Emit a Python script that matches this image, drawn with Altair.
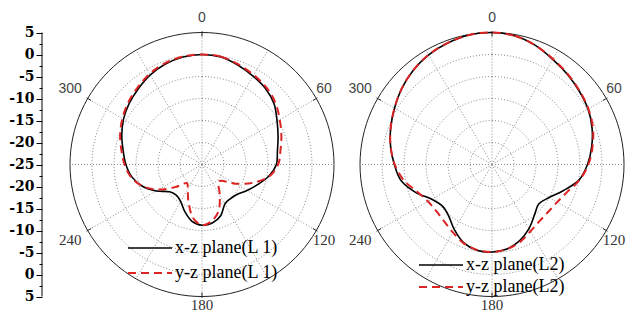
import altair as alt
import pandas as pd

# ---------------- data (dB vs angle, clockwise from top) ----------------
angles = list(range(0, 360, 10))

xz_L1 = [0.0, -0.2, -1.0, -1.8, -2.5, -3.6, -5.3, -6.6, -7.6, -8.1,
         -9.6, -11.6, -13.2, -14.5, -14.9, -14.6, -12.6, -11.5, -11.2, -11.9,
         -13.6, -15.3, -15.9, -15.4, -13.0, -10.6, -8.8, -7.7, -6.8, -5.6,
         -4.4, -3.4, -2.5, -1.5, -0.7, -0.2]

yz_L1 = [0.0, -0.1, -0.8, -1.5, -2.2, -3.2, -4.6, -5.8, -6.9, -7.7,
         -9.5, -12.8, -16.3, -19.3, -19.2, -16.9, -13.9, -12.0, -11.2, -12.8,
         -16.0, -18.5, -19.5, -17.0, -13.6, -10.6, -8.6, -7.4, -6.4, -5.2,
         -4.1, -3.1, -2.2, -1.2, -0.5, -0.1]

xz_L2 = [5.0, 4.7, 3.8, 2.6, 1.7, 0.9, 0.2, -0.8, -2.0, -3.3,
         -4.9, -7.7, -10.0, -11.1, -10.0, -8.2, -6.6, -5.5, -5.1, -5.2,
         -6.1, -7.9, -9.7, -10.3, -9.2, -6.5, -4.0, -2.8, -1.6, -0.5,
         0.6, 1.8, 2.9, 3.8, 4.4, 4.9]

yz_L2 = [5.0, 4.7, 3.8, 2.7, 1.8, 1.0, 0.3, -0.6, -1.8, -3.1,
         -4.8, -6.8, -7.9, -8.3, -8.2, -7.5, -6.3, -5.5, -5.1, -5.3,
         -6.0, -7.2, -8.1, -8.5, -8.2, -6.9, -4.6, -2.9, -1.6, -0.5,
         0.6, 1.8, 2.9, 3.8, 4.4, 4.9]

names = {
    ("L1", "xz"): "x-z plane(L 1)",
    ("L1", "yz"): "y-z plane(L 1)",
    ("L2", "xz"): "x-z plane(L2)",
    ("L2", "yz"): "y-z plane(L2)",
}

CENTER_DB = -25
OUTER_DB = 5
ring_db = [-20, -15, -10, -5, 0]
spoke_angles = list(range(0, 360, 30))
label_angles = [0, 60, 120, 180, 240, 300]
sans_label_angles = [0, 60, 300]
axis_vals = [-30 + 2.5 * i for i in range(25)]

# ---------------- layout / style ----------------
W, H = 618, 304
CX_L2 = 65.91
XDOM = [-44.09, 96.36]
YDOM = [-33.52, 35.57]
RED = "#dc2424"

xs = alt.Scale(domain=XDOM, nice=False, zero=False)
ys = alt.Scale(domain=YDOM, nice=False, zero=False)
yaxis = alt.Axis(
    values=axis_vals,
    labelExpr=f"datum.value % 5 === 0 ? '' + (abs(datum.value) + ({CENTER_DB})) : ''",
    labelOverlap=False,
    labelFont="DejaVu Serif",
    labelFontWeight="bold",
    labelFontSize=14,
    labelColor="black",
    labelPadding=2,
    tickColor="black",
    tickWidth=1,
    tickSize={"condition": {"test": "datum.value % 5 === 0", "value": 6}, "value": 3},
    domain=False,
    grid=False,
    offset=-34,
    title=None,
)


def X(f):
    return alt.X(f"{f}:Q", scale=xs, axis=None, title=None)


def Y(f):
    return alt.Y(f"{f}:Q", scale=ys, axis=yaxis, title=None)


CX_EXPR = f"datum.plot === 'L1' ? 0 : {CX_L2}"

# ---------------- curves ----------------
rows = []
for (plot, plane), vals in zip(names.keys(), [xz_L1, yz_L1, xz_L2, yz_L2]):
    for i, (a, v) in enumerate(zip(angles, vals)):
        rows.append({"plot": plot, "plane": plane, "angle": a, "db": v, "idx": i})
curves = pd.DataFrame(rows)

curve_base = alt.Chart(curves).transform_calculate(
    cx=CX_EXPR,
    r=f"datum.db - ({CENTER_DB})",
).transform_calculate(
    X="datum.cx + datum.r * sin(datum.angle * PI / 180)",
    Y="datum.r * cos(datum.angle * PI / 180)",
)

black = curve_base.transform_filter("datum.plane === 'xz'").mark_line(
    interpolate="cardinal-closed", color="black", strokeWidth=1.6
).encode(x=X("X"), y=Y("Y"), order="idx:Q", detail="plot:N")

red = curve_base.transform_filter("datum.plane === 'yz'").mark_line(
    interpolate="cardinal-closed", color=RED, strokeWidth=2, strokeDash=[8, 5]
).encode(x=X("X"), y=Y("Y"), order="idx:Q", detail="plot:N")

# ---------------- grid ----------------
grid_rows = []
for plot in ["L1", "L2"]:
    for rd in ring_db + [OUTER_DB]:
        for a in range(0, 360, 3):
            grid_rows.append({"plot": plot, "ring": rd, "angle": a})
grid = pd.DataFrame(grid_rows)

grid_base = alt.Chart(grid).transform_calculate(
    cx=CX_EXPR, r=f"datum.ring - ({CENTER_DB})"
).transform_calculate(
    X="datum.cx + datum.r * sin(datum.angle * PI / 180)",
    Y="datum.r * cos(datum.angle * PI / 180)",
)

rings = grid_base.transform_filter(f"datum.ring < {OUTER_DB}").mark_line(
    interpolate="linear-closed", color="#8a8a8a", strokeWidth=1, strokeDash=[1, 2]
).encode(x=X("X"), y=Y("Y"), order="angle:Q", detail=["plot:N", "ring:Q"])

outer = grid_base.transform_filter(f"datum.ring === {OUTER_DB}").mark_line(
    interpolate="linear-closed", color="#222", strokeWidth=1
).encode(x=X("X"), y=Y("Y"), order="angle:Q", detail=["plot:N", "ring:Q"])

spk = pd.DataFrame([{"plot": p, "angle": a} for p in ["L1", "L2"] for a in spoke_angles])
spokes = alt.Chart(spk).transform_calculate(cx=CX_EXPR).transform_calculate(
    X0="datum.cx",
    Y0="0",
    X1=f"datum.cx + {OUTER_DB - CENTER_DB} * sin(datum.angle * PI / 180)",
    Y1=f"{OUTER_DB - CENTER_DB} * cos(datum.angle * PI / 180)",
).mark_rule(color="#8a8a8a", strokeWidth=1, strokeDash=[1, 2]).encode(
    x=X("X0"), y=Y("Y0"), x2="X1:Q", y2="Y1:Q"
)

tk = pd.DataFrame([{"plot": p, "angle": a} for p in ["L1", "L2"] for a in label_angles])
R_OUT = OUTER_DB - CENTER_DB
ticks = alt.Chart(tk).transform_calculate(cx=CX_EXPR).transform_calculate(
    X0=f"datum.cx + {R_OUT - 0.9} * sin(datum.angle * PI / 180)",
    Y0=f"{R_OUT - 0.9} * cos(datum.angle * PI / 180)",
    X1=f"datum.cx + {R_OUT + 0.3} * sin(datum.angle * PI / 180)",
    Y1=f"{R_OUT + 0.3} * cos(datum.angle * PI / 180)",
).mark_rule(color="#222", strokeWidth=1).encode(
    x=X("X0"), y=Y("Y0"), x2="X1:Q", y2="Y1:Q"
)

# radial axis line of the left plot
axis_line = alt.Chart(pd.DataFrame({"y0": [-R_OUT], "y1": [R_OUT]})).mark_rule(
    color="black", strokeWidth=1
).encode(x=alt.value(34), y=Y("y0"), y2="y1:Q")

# ---------------- angle labels ----------------
lab = pd.DataFrame([{"plot": p, "angle": a, "text": str(a)} for p in ["L1", "L2"] for a in label_angles])
lab_base = alt.Chart(lab).transform_calculate(cx=CX_EXPR).transform_calculate(
    s="sin(datum.angle * PI / 180)",
    c="cos(datum.angle * PI / 180)",
).transform_calculate(
    X="datum.cx + (datum.s > 0 ? 32.0 : 34.6) * datum.s",
    Y="datum.angle === 0 ? 33.4 : (datum.angle === 180 ? -32.0 : 34.4 * datum.c)",
)
sans_test = " || ".join(f"datum.angle === {a}" for a in sans_label_angles)
labels_sans = lab_base.transform_filter(sans_test).mark_text(
    font="Liberation Sans", fontSize=14, color="#444", align="center", baseline="middle"
).encode(x=X("X"), y=Y("Y"), text="text:N")
labels_serif = lab_base.transform_filter(f"!({sans_test})").mark_text(
    font="Liberation Serif", fontSize=15, color="#333", align="center", baseline="middle"
).encode(x=X("X"), y=Y("Y"), text="text:N")


# ---------------- legends ----------------
def legend_row(name, dashed, x0, y):
    src = alt.Chart(pd.DataFrame({"name": [name]}))
    kw = dict(color=RED, strokeWidth=2, strokeDash=[8, 5]) if dashed else dict(color="black", strokeWidth=1.6)
    rule = src.mark_rule(**kw).encode(x=alt.value(x0), x2=alt.value(x0 + 44), y=alt.value(y))
    txt = src.mark_text(
        font="Liberation Serif", fontSize=18, color="black", align="left", baseline="middle"
    ).encode(x=alt.value(x0 + 47), y=alt.value(y), text="name:N")
    return [rule, txt]


legend_layers = (
    legend_row(names[("L1", "xz")], False, 120, 240)
    + legend_row(names[("L1", "yz")], True, 120, 265)
    + legend_row(names[("L2", "xz")], False, 411, 257)
    + legend_row(names[("L2", "yz")], True, 411, 279)
)

chart = alt.layer(
    rings, spokes, outer, ticks, axis_line, black, red, labels_sans, labels_serif, *legend_layers
).properties(
    width=W,
    height=H,
    autosize=alt.AutoSizeParams(type="none"),
    padding=0,
    background="white",
).configure_view(stroke=None)

chart.save("out.html", embed_options={"renderer": "svg", "actions": False})
